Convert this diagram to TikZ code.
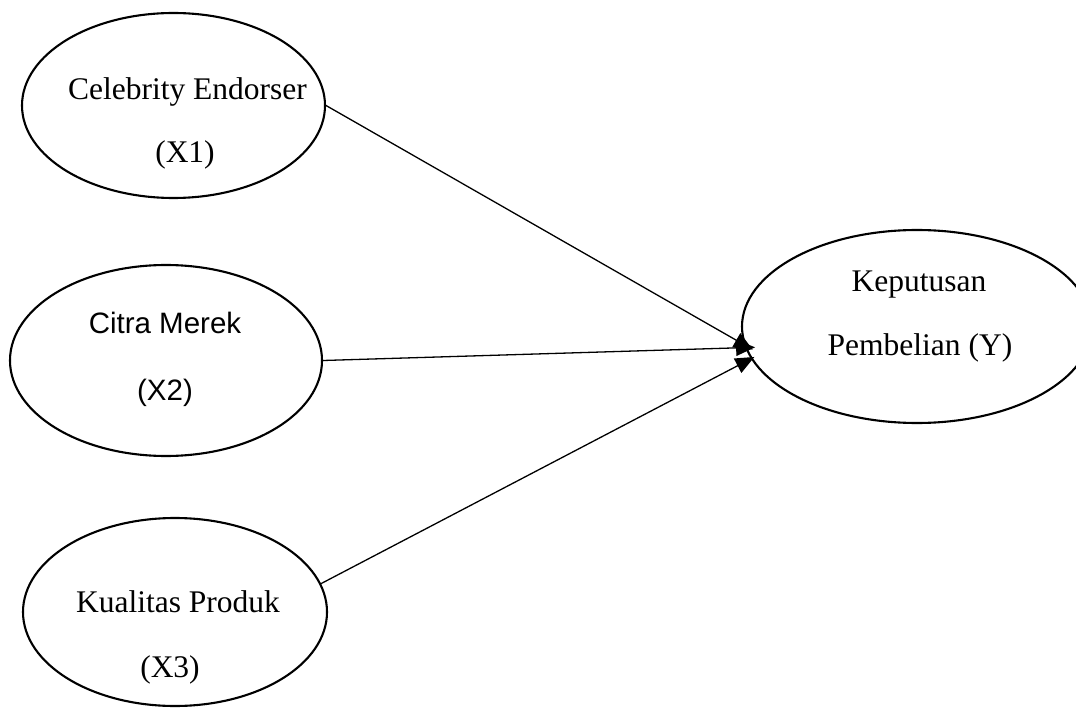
\documentclass[tikz,border=0pt]{standalone}
\usepackage{fontspec}
\setmainfont{Liberation Serif}
\newfontfamily\labsans{Liberation Sans}
\usetikzlibrary{shapes.geometric,arrows.meta}
\tikzset{
  var/.style={draw, ellipse, line width=2.1pt, inner sep=0pt},
  serlab/.style={anchor=base, inner sep=0pt, font=\fontsize{31.5}{36}\selectfont},
  sanlab/.style={anchor=base, inner sep=0pt, font=\labsans\fontsize{29.5}{34}\selectfont},
  conn/.style={line width=1.3pt, -{Triangle[length=19pt,width=16pt]}}
}
\begin{document}
\begin{tikzpicture}[x=1pt,y=-1pt]
\useasboundingbox (0,0) rectangle (1076,711);
% ellipses
\node[var, minimum width=303pt, minimum height=185pt] (e1) at (173.5,105.5) {};
\node[var, minimum width=312pt, minimum height=191pt] (e2) at (166,360.5) {};
\node[var, minimum width=304pt, minimum height=188pt] (e3) at (175,612) {};
\node[var, minimum width=350pt, minimum height=193pt] (ey) at (917,326.5) {};
% labels
\node[serlab] (t1a) at (187.5,100) {Celebrity Endorser};
\node[serlab] (t1b) at (185,163) {(X1)};
\node[sanlab] (t2a) at (165,333) {Citra Merek};
\node[sanlab] (t2b) at (165,400) {(X2)};
\node[serlab] (t3a) at (178,612) {Kualitas Produk};
\node[serlab] (t3b) at (170,677) {(X3)};
\node[serlab] (tya) at (919,292) {Keputusan};
\node[serlab] (tyb) at (920,355) {Pembelian (Y)};
% connectors
\draw[conn, shorten >=-10pt] (e1.east) -- (ey.186);
\draw[conn, shorten >=-10pt] (e2.east) -- (ey.187);
\draw[conn, shorten >=-4pt] (e3.11) -- (ey.191);
\end{tikzpicture}
\end{document}
